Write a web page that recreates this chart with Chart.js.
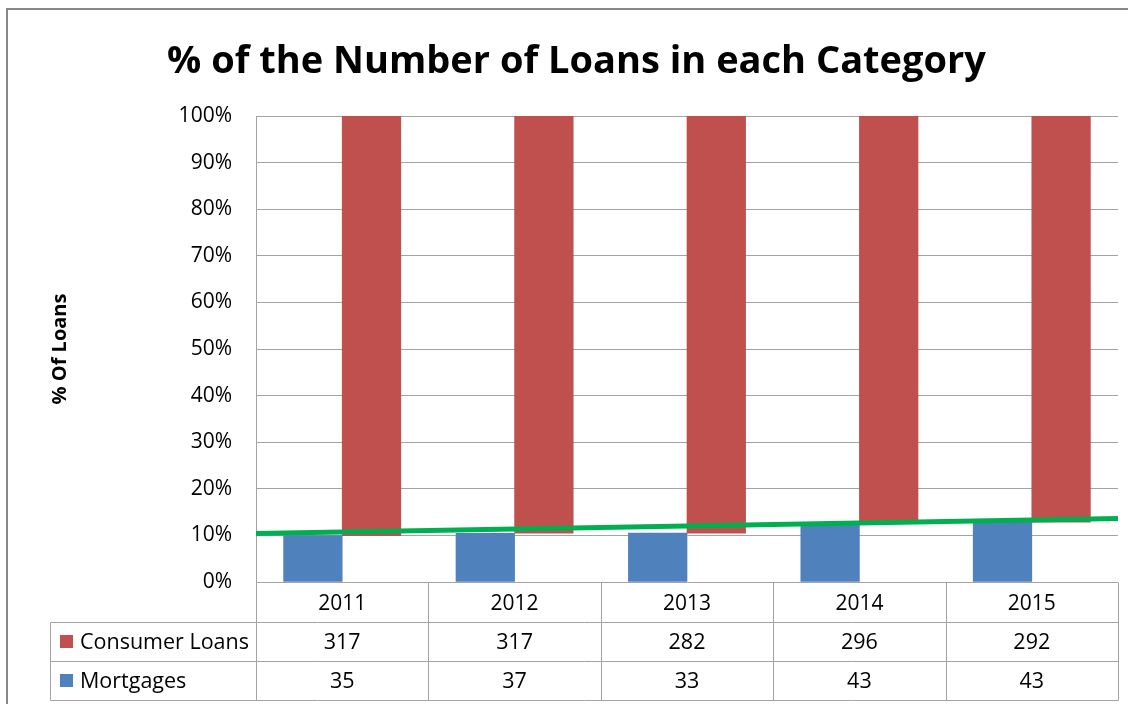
<!DOCTYPE html>
<html><head><meta charset="utf-8">
<script src="https://cdn.jsdelivr.net/npm/chart.js@4.4.1/dist/chart.umd.min.js"></script>
<style>html,body{margin:0;padding:0;background:#fff;overflow:hidden}
#wrap{position:relative;width:1128px;height:704px}</style>
</head><body>
<div id="wrap"><canvas id="c" width="1128" height="704"></canvas></div>
<script>
// ---- data ----
const years = ['2011', '2012', '2013', '2014', '2015'];
const consumerLoans = [317, 317, 282, 296, 292];
const mortgages = [35, 37, 33, 43, 43];
const trendLine = [10.4, 13.6];   // green line, left edge -> right edge (%)

// ---- derived ----
const mortgagePct = mortgages.map((m, i) => m / (m + consumerLoans[i]) * 100);
const consumerRange = mortgagePct.map(p => [p, 100]);

const GRID = '#a3a3a3';
const FONT = "'Open Sans', sans-serif";
const BLUE = '#4f81bd', RED = '#c0504d', GREEN = '#00b050';

const framePlugin = {
  id: 'frame',
  beforeDraw(chart) {
    const ctx = chart.ctx;
    ctx.save();
    ctx.fillStyle = '#fff';
    ctx.fillRect(0, 0, chart.width, chart.height);
    ctx.strokeStyle = '#888';
    ctx.lineWidth = 2;
    ctx.beginPath();
    ctx.moveTo(7, chart.height + 5);
    ctx.lineTo(7, 9);
    ctx.lineTo(chart.width + 5, 9);
    ctx.stroke();
    ctx.restore();
  }
};

const tablePlugin = {
  id: 'dataTable',
  afterDraw(chart) {
    const ctx = chart.ctx;
    const a = chart.chartArea;
    const x = chart.scales.x;
    const n = years.length;
    const colW = (a.right - a.left) / n;
    const px = v => Math.round(v) + 0.5;
    const hdrTop = a.bottom;
    const r1 = x.bottom, r2 = r1 + 39, r3 = r2 + 39;
    const labelLeft = 50;
    ctx.save();
    ctx.strokeStyle = GRID;
    ctx.lineWidth = 1;
    const line = (x1, y1, x2, y2) => { ctx.beginPath(); ctx.moveTo(px(x1), px(y1)); ctx.lineTo(px(x2), px(y2)); ctx.stroke(); };
    for (let i = 0; i <= n; i++) {
      const b = i < n ? x.getPixelForValue(i) - colW / 2 : x.getPixelForValue(n - 1) + colW / 2;
      line(b, hdrTop, b, r3);
    }
    line(labelLeft, r1, labelLeft, r3);
    [r1, r2, r3].forEach(y => line(labelLeft, y, a.right, y));

    const rows = [
      { label: 'Consumer Loans', values: consumerLoans, color: RED, top: r1, bottom: r2 },
      { label: 'Mortgages', values: mortgages, color: BLUE, top: r2, bottom: r3 }
    ];
    ctx.font = '21.5px ' + FONT;
    ctx.textBaseline = 'middle';
    rows.forEach(r => {
      const cy = (r.top + r.bottom) / 2;
      ctx.fillStyle = r.color;
      ctx.fillRect(60, Math.round(cy - 6.5), 13, 13);
      ctx.fillStyle = '#000';
      ctx.textAlign = 'left';
      ctx.fillText(r.label, 80, cy + 1);
      ctx.textAlign = 'center';
      r.values.forEach((v, i) => ctx.fillText(String(v), x.getPixelForValue(i), cy + 1));
    });
    ctx.restore();
  }
};

new Chart(document.getElementById('c'), {
  type: 'bar',
  data: {
    labels: years,
    datasets: [
      {
        type: 'line', label: 'Trend', xAxisID: 'xt',
        data: trendLine.map((v, i) => ({ x: i, y: v })),
        borderColor: GREEN, borderWidth: 5, pointRadius: 0, fill: false, tension: 0, order: 0
      },
      { label: 'Mortgages', data: mortgagePct, backgroundColor: BLUE, barThickness: 58.6, order: 1 },
      { label: 'Consumer Loans', data: consumerRange, backgroundColor: RED, barThickness: 58.6, order: 1 }
    ]
  },
  options: {
    responsive: false,
    animation: false,
    devicePixelRatio: 1,
    layout: { padding: { left: 35, right: 10, top: 0, bottom: 82 } },
    plugins: {
      legend: { display: false },
      tooltip: { enabled: false },
      title: {
        display: true,
        text: '% of the Number of Loans in each Category',
        color: '#000',
        font: { family: FONT, size: 38, weight: 'bold', lineHeight: 1.2 },
        padding: { top: 39, bottom: 116 - 39 - 45.6 }
      }
    },
    scales: {
      x: {
        grid: { display: false },
        border: { display: false },
        ticks: { color: '#000', font: { family: FONT, size: 21 }, padding: 1, maxRotation: 0, autoSkip: false },
        afterFit(s) { s.height = 40; }
      },
      xt: { type: 'linear', display: false, min: 0, max: 1, offset: false },
      y: {
        min: 0, max: 100,
        ticks: { stepSize: 10, callback: v => v + '%', color: '#000', font: { family: FONT, size: 21 }, padding: 24 },
        grid: { color: GRID, drawTicks: false, lineWidth: 1 },
        border: { color: GRID, width: 1 },
        title: {
          display: true, text: '% Of Loans', color: '#000',
          font: { family: FONT, size: 20, weight: 'bold', lineHeight: 1.2 },
          padding: { top: 13, bottom: 0 }
        },
        afterFit(s) { s.width = 221; }
      }
    }
  },
  plugins: [framePlugin, tablePlugin]
});
</script>
</body></html>
